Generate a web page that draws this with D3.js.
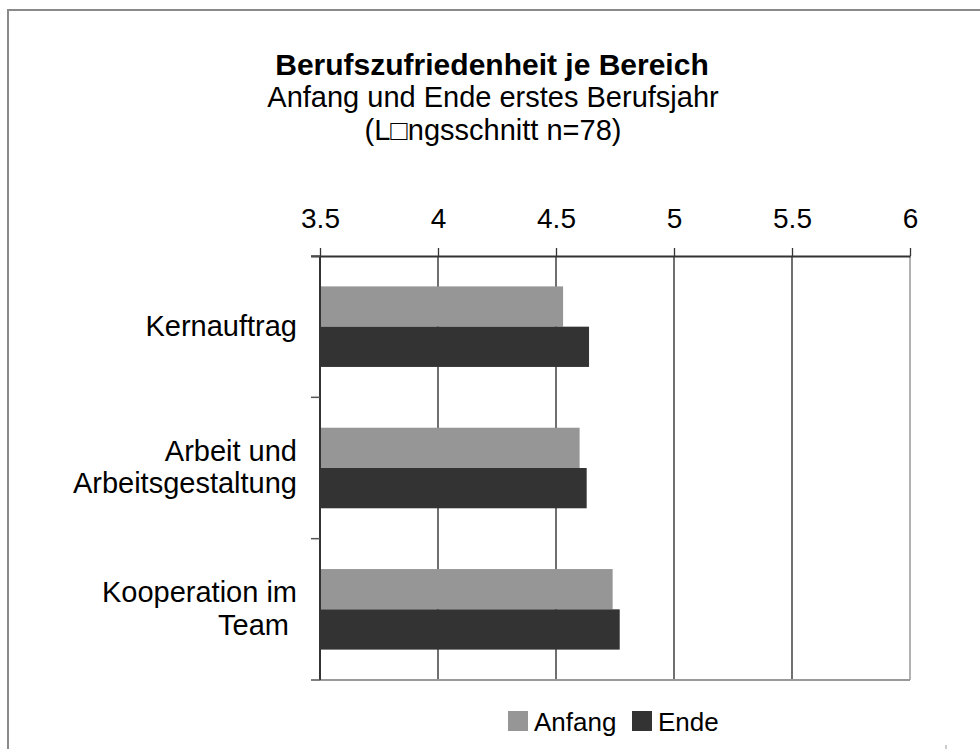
<!DOCTYPE html>
<html>
<head>
<meta charset="utf-8">
<script src="https://cdn.jsdelivr.net/npm/d3@7"></script>
<style>
  body { margin: 0; background: #fff; }
  svg text { font-family: "Liberation Sans", Arial, sans-serif; fill: #000; white-space: pre; }
</style>
</head>
<body>
<svg id="chart" width="980" height="749"></svg>
<script>
// data
const categories = ["Kernauftrag", "Arbeit und Arbeitsgestaltung", "Kooperation im Team"];
const categoryLines = [["Kernauftrag"], ["Arbeit und", "Arbeitsgestaltung"], ["Kooperation im", "Team "]];
const seriesNames = ["Anfang", "Ende"];
const anfang = [4.53, 4.60, 4.74];
const ende = [4.64, 4.63, 4.77];
const xTicks = [3.5, 4, 4.5, 5, 5.5, 6];
const titleLines = ["Berufszufriedenheit je Bereich", "Anfang und Ende erstes Berufsjahr", "(L\u25A1ngsschnitt n=78)"];

const colors = { "Anfang": "#969696", "Ende": "#333333" };

const svg = d3.select("#chart");

// outer frame (only top and left visible)
svg.append("path")
    .attr("d", "M8,749 L8,10 L980,10")
    .attr("fill", "none")
    .attr("stroke", "#8a8a8a")
    .attr("stroke-width", 2);

// titles
svg.append("text")
    .attr("x", 492).attr("y", 75)
    .attr("text-anchor", "middle")
    .style("font-size", "30px")
    .style("font-weight", "bold")
    .text(titleLines[0]);

svg.selectAll("text.sub")
    .data(titleLines.slice(1))
    .enter()
    .append("text")
    .attr("class", "sub")
    .attr("x", 493)
    .attr("y", function(d, i){ return 107 + i * 33 })
    .attr("text-anchor", "middle")
    .style("font-size", "29px")
    .text(function(d){ return d });

const pLeft = 320, pRight = 910, pTop = 256, pBottom = 680;

const x = d3.scaleLinear().domain([3.5, 6]).range([pLeft, pRight]);
const y = d3.scaleBand().domain(categories).range([pTop, pBottom])
    .paddingInner(0.43).paddingOuter(0.215);
const ySub = d3.scaleBand().domain(seriesNames).range([0, y.bandwidth()]);

// vertical grid lines
svg.selectAll("line.grid")
    .data(xTicks.slice(1))
    .enter()
    .append("line")
    .attr("class", "grid")
    .attr("x1", function(d){ return x(d) })
    .attr("x2", function(d){ return x(d) })
    .attr("y1", pTop)
    .attr("y2", pBottom)
    .attr("stroke", function(d){ return d === 6 ? "#888" : "#222" })
    .attr("stroke-width", 1.3);

// bottom line
svg.append("line")
    .attr("x1", pLeft).attr("x2", pRight)
    .attr("y1", pBottom).attr("y2", pBottom)
    .attr("stroke", "#999").attr("stroke-width", 2);

// bars
const rows = categories.map(function(c, i){
    return { cat: c, values: [ { s: "Anfang", v: anfang[i] }, { s: "Ende", v: ende[i] } ] };
});

const groups = svg.selectAll("g.cat")
    .data(rows)
    .enter()
    .append("g")
    .attr("class", "cat")
    .attr("transform", function(d){ return "translate(0," + y(d.cat) + ")" });

groups.selectAll("rect")
    .data(function(d){ return d.values })
    .enter()
    .append("rect")
    .attr("x", x(3.5))
    .attr("y", function(d){ return ySub(d.s) })
    .attr("width", function(d){ return x(d.v) - x(3.5) })
    .attr("height", ySub.bandwidth())
    .attr("fill", function(d){ return colors[d.s] });

// top axis
const xAxis = d3.axisTop(x)
    .tickValues(xTicks)
    .tickSize(8)
    .tickPadding(20)
    .tickFormat(function(d){ return String(d) });

const gx = svg.append("g")
    .attr("transform", "translate(0," + pTop + ")")
    .call(xAxis);
gx.select(".domain").attr("stroke", "#333").attr("stroke-width", 2)
    .attr("d", "M311,0.5H" + (pRight + 0.5));
gx.selectAll(".tick line").attr("stroke", "#333").attr("stroke-width", 1.3);
gx.selectAll(".tick text")
    .style("font-size", "28px")
    .style("font-family", "'Liberation Sans', Arial, sans-serif")
    .attr("fill", "#000");

// left axis line and category ticks
const catTicks = [pTop].concat(categories.map(function(c){ return y(c) + y.bandwidth() + y.step() * 0.215 }));
svg.append("line")
    .attr("x1", pLeft).attr("x2", pLeft)
    .attr("y1", pTop).attr("y2", pBottom)
    .attr("stroke", "#333").attr("stroke-width", 2);

svg.selectAll("line.ctick")
    .data(catTicks)
    .enter()
    .append("line")
    .attr("class", "ctick")
    .attr("x1", 311).attr("x2", pLeft)
    .attr("y1", function(d){ return d })
    .attr("y2", function(d){ return d })
    .attr("stroke", "#555").attr("stroke-width", 1.5);

// category labels
const labels = svg.selectAll("text.cat")
    .data(categoryLines)
    .enter()
    .append("text")
    .attr("class", "cat")
    .attr("text-anchor", "end")
    .style("font-size", "29px");

labels.selectAll("tspan")
    .data(function(d, i){ return d.map(function(t, j){ return { t: t, j: j, n: d.length, c: categories[i] } }) })
    .enter()
    .append("tspan")
    .attr("x", 297)
    .attr("y", function(d){
        const mid = y(d.c) + y.bandwidth() / 2;
        return mid + 9 + (d.j - (d.n - 1) / 2) * 32.5;
    })
    .text(function(d){ return d.t });

// legend
const legend = svg.selectAll("g.legend")
    .data(seriesNames)
    .enter()
    .append("g")
    .attr("class", "legend")
    .attr("transform", function(d, i){ return "translate(" + (508 + i * 124) + ",711)" });

legend.append("rect")
    .attr("width", 20)
    .attr("height", 20)
    .attr("fill", function(d){ return colors[d] });

legend.append("text")
    .attr("x", 26)
    .attr("y", 20)
    .style("font-size", "26px")
    .text(function(d){ return d });

// small mark bottom right
svg.append("line")
    .attr("x1", 946).attr("x2", 946)
    .attr("y1", 745).attr("y2", 749)
    .attr("stroke", "#999").attr("stroke-width", 1);
</script>
</body>
</html>
